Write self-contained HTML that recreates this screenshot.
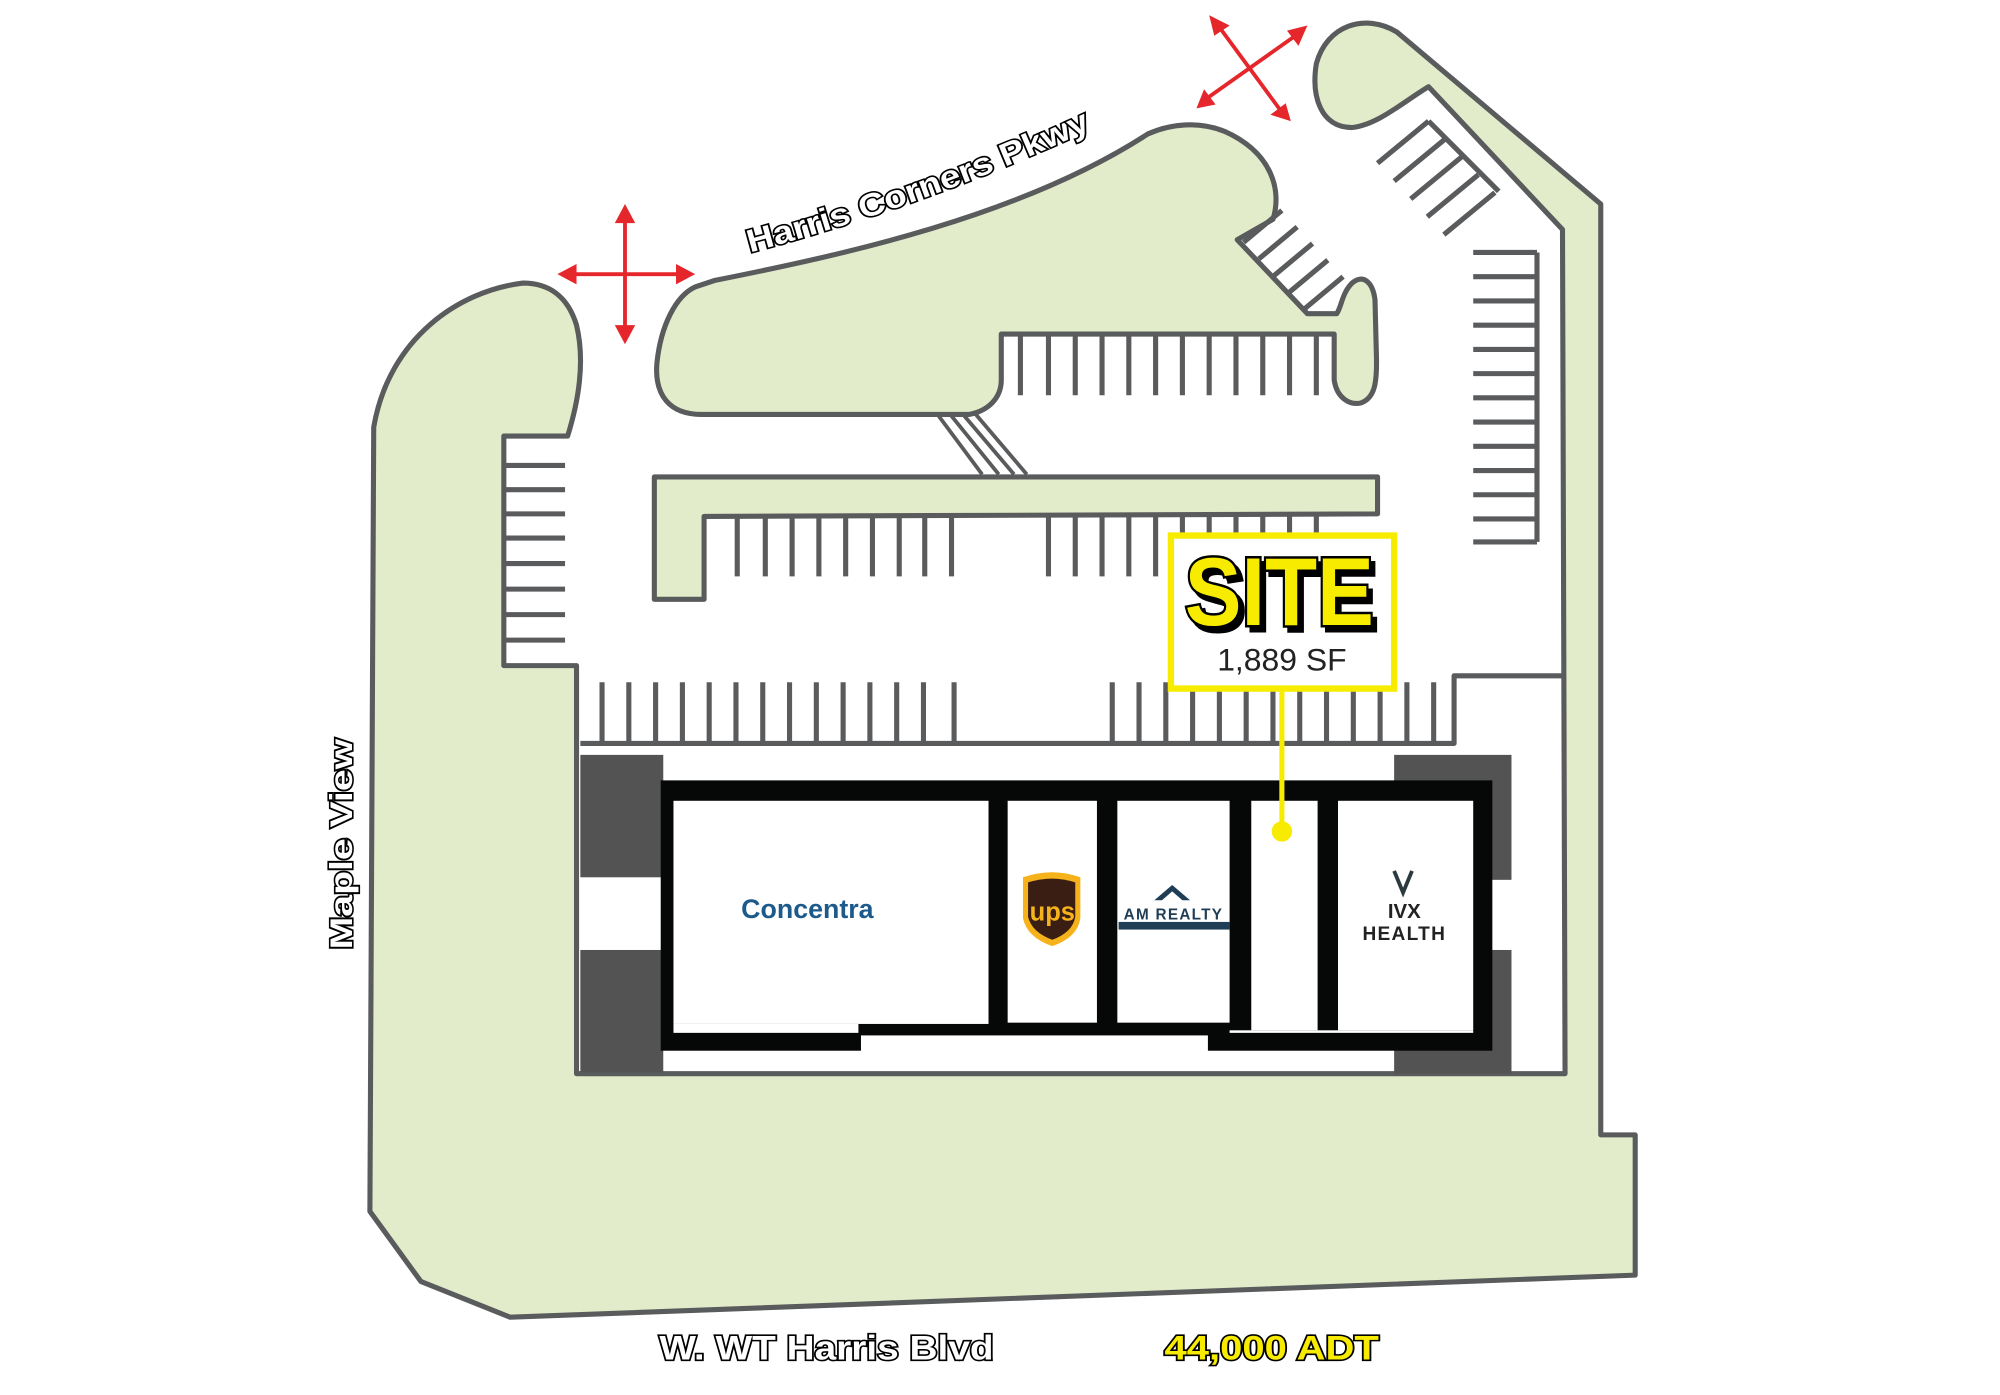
<!DOCTYPE html>
<html><head><meta charset="utf-8"><style>
html,body{margin:0;padding:0;background:#fff;width:2000px;height:1395px;overflow:hidden}
svg{display:block}
.t{font-family:"Liberation Sans",sans-serif;font-weight:bold}
</style></head><body>
<svg width="2000" height="1395" viewBox="0 0 1568 1094" preserveAspectRatio="none" xmlns="http://www.w3.org/2000/svg">
<rect width="1568" height="1094" fill="#fff"/>
<defs><path id="hc" d="M588 198 Q730 160 858 100"/></defs>
<g stroke="#5a5b5d" stroke-width="4" stroke-linejoin="round">
<path fill="#e2ecca" d="M410 222 C360 228 305 265 293 335 L290 950 L330 1005 L400 1033 L1282 1000 L1282 890 L1255 890 L1255 160 L1095 25 C1070 10 1040 20 1032 50 C1028 75 1035 100 1060 100 C1080 98 1100 80 1120 68 L1225 180 L1227 842 L452 842 L452 522 L395 522 L395 342 L445 342 C455 310 458 280 452 255 C445 232 430 222 410 222 Z"/>
<path fill="#e2ecca" d="M545 225 C530 232 518 255 515 285 C513 310 525 325 550 325 L760 325 C775 322 785 312 785 298 L785 262 L1046 262 L1046 298 C1048 312 1058 318 1067 316 C1078 312 1080 300 1079 275 L1078 235 C1076 220 1068 215 1060 222 C1052 230 1052 240 1048 246 L1025 246 L970 188 L998 172 C1005 150 998 120 960 103 C940 95 918 97 900 105 C800 170 660 200 560 220 Z"/>
<path fill="#e2ecca" d="M513 374 L1080 374 L1080 403 L552 405 L552 470 L513 470 Z"/>
<path fill="none" d="M455 583 L1140 583 L1140 530 L1225 530"/>
<path fill="none" d="M1205 198 L1205 425 M1120 95 L1175 150"/>
</g>
<g stroke="#5a5b5d" stroke-width="4" fill="none">
<path d="M395 365H443M395 384H443M395 403H443M395 422H443M395 442H443M395 462H443M395 482H443M395 502H443"/>
<path d="M578 404V452M600 404V452M621 404V452M642 404V452M663 404V452M684 404V452M705 404V452M725 404V452M746 404V452M822 404V452M843 404V452M864 404V452M885 404V452M906 404V452M927 404V452M948 404V452M969 404V452M990 404V452M1011 404V452M1032 404V452"/>
<path d="M472 535V583M493 535V583M514 535V583M535 535V583M556 535V583M577 535V583M598 535V583M619 535V583M640 535V583M661 535V583M682 535V583M703 535V583M724 535V583M748 535V583M872 535V583M893 535V583M914 535V583M935 535V583M956 535V583M977 535V583M998 535V583M1019 535V583M1040 535V583M1061 535V583M1082 535V583M1103 535V583M1124 535V583"/>
<path d="M800 262V310M822 262V310M843 262V310M864 262V310M885 262V310M906 262V310M927 262V310M948 262V310M969 262V310M990 262V310M1011 262V310M1032 262V310"/>
<path d="M1155 198H1205M1155 217H1205M1155 236H1205M1155 255H1205M1155 274H1205M1155 293H1205M1155 312H1205M1155 331H1205M1155 350H1205M1155 369H1205M1155 388H1205M1155 407H1205M1155 425H1205"/>
<path d="M1120 95L1080 128M1133 109L1093 142M1146 123L1106 156M1159 137L1119 170M1172 151L1132 184"/>
<path d="M975 190L1005 165M987 203L1017 178M999 216L1029 191M1011 229L1041 204M1023 242L1053 217"/>
<path d="M735 325L770 372M745 325L783 372M755 325L795 372M765 325L805 372" stroke-width="3"/>
</g>
<g fill="#535353">
<rect x="455" y="592" width="65" height="96"/><rect x="455" y="745" width="65" height="96"/>
<rect x="1093" y="592" width="92" height="98"/><rect x="1093" y="745" width="92" height="97"/>
</g>
<rect x="518" y="612" width="652" height="212" fill="#050807"/>
<rect x="675" y="812" width="272" height="14" fill="#fff"/>
<g fill="#fff">
<rect x="528" y="628" width="247" height="175"/>
<rect x="790" y="628" width="70" height="174"/>
<rect x="876" y="628" width="88" height="174"/>
<rect x="981" y="628" width="52" height="180"/>
<rect x="1049" y="628" width="106" height="180"/>
<rect x="528" y="803" width="145" height="7"/>
<rect x="964" y="808" width="191" height="2"/>
</g>
<text x="633" y="720" font-family="Liberation Sans,sans-serif" font-weight="bold" font-size="21" fill="#1d5a8c" text-anchor="middle">Concentra</text>
<path d="M802 688 Q825 680 847 688 L847 720 Q845 735 825 742 Q805 735 802 720 Z" fill="#f5b21a"/>
<path d="M806 692 Q825 686 843 692 L843 719 Q841 731 825 737 Q809 731 806 719 Z" fill="#3a1e14"/>
<text x="825" y="722" class="t" font-size="20" fill="#f5b21a" text-anchor="middle">ups</text>
<path d="M905 706 L919 694 L933 706 L927 706 L919 699 L911 706 Z" fill="#1f3d55"/>
<text x="920" y="721" class="t" font-size="12" fill="#1f3d55" text-anchor="middle" letter-spacing="1">AM REALTY</text>
<rect x="877" y="723" width="87" height="6" fill="#1f3d55"/>
<path d="M1093 683 L1100 700 L1107 683" stroke="#2a3a3f" stroke-width="3" fill="none"/>
<text x="1101" y="720" class="t" font-size="16" fill="#222" text-anchor="middle">IVX</text>
<text x="1101" y="737" class="t" font-size="15" fill="#222" text-anchor="middle" letter-spacing="1">HEALTH</text>
<line x1="1005" y1="540" x2="1005" y2="652" stroke="#f7ec00" stroke-width="4"/>
<circle cx="1005" cy="652" r="8" fill="#f7ec00"/>
<rect x="918" y="420" width="175" height="120" fill="#fff" stroke="#f7ec00" stroke-width="5"/>
<g transform="translate(1003,490) scale(1.15,1.3)">
<text x="3" y="3" class="t" font-size="58" fill="#000" text-anchor="middle" stroke="#000" stroke-width="3">SITE</text>
<text x="0" y="0" class="t" font-size="58" fill="#f7ec00" stroke="#000" stroke-width="3" paint-order="stroke" text-anchor="middle">SITE</text>
</g>
<text x="1005" y="526" font-family="Liberation Sans,sans-serif" font-size="25" fill="#222" text-anchor="middle">1,889 SF</text>
<g stroke="#e5262a" stroke-width="3" fill="#e5262a">
<line x1="445" y1="215" x2="537" y2="215"/><line x1="490" y1="168" x2="490" y2="262"/>
<line x1="955" y1="20" x2="1005" y2="88"/><line x1="1017" y1="27" x2="945" y2="78"/>
</g>
<g fill="#e5262a">
<path d="M437 215 L452 207 L452 223Z"/><path d="M545 215 L530 207 L530 223Z"/>
<path d="M490 160 L482 175 L498 175Z"/><path d="M490 270 L482 255 L498 255Z"/>
<path d="M948 12 L952 28 L964 20Z"/><path d="M1012 95 L996 90 L1008 81Z"/>
<path d="M1025 20 L1009 24 L1018 36Z"/><path d="M938 85 L944 70 L953 82Z"/>
</g>
<g class="t" fill="#fff" stroke="#000" stroke-width="2.5" paint-order="stroke">
<text font-size="25" textLength="285" lengthAdjust="spacingAndGlyphs"><textPath href="#hc">Harris Corners Pkwy</textPath></text>
<text x="0" y="0" font-size="25" text-anchor="middle" textLength="165" lengthAdjust="spacingAndGlyphs" transform="translate(276,662) rotate(-90)">Maple View</text>
<text x="648" y="1066" font-size="27" text-anchor="middle" textLength="262" lengthAdjust="spacingAndGlyphs">W. WT Harris Blvd</text>
</g>
<text x="997" y="1066" class="t" font-size="27" fill="#f7ec00" stroke="#000" stroke-width="2.5" paint-order="stroke" text-anchor="middle" textLength="168" lengthAdjust="spacingAndGlyphs">44,000 ADT</text>
</svg>
</body></html>
